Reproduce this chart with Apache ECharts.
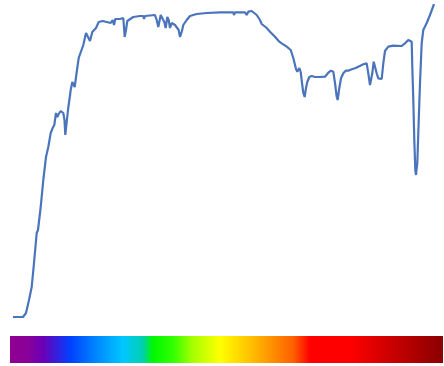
<!DOCTYPE html>
<html>
<head>
<meta charset="utf-8">
<script src="https://cdn.jsdelivr.net/npm/echarts@6/dist/echarts.min.js"></script>
<style>html,body{margin:0;padding:0;background:#fff;}#c{width:444px;height:366px;}</style>
</head>
<body>
<div id="c"></div>
<script>
// Spectrum position (0..433) and relative intensity (0..312)
var position = [
  3, 13, 16, 19, 21.7, 24, 26.7, 28, 30.7, 33.3,
  36, 38.3, 40.7, 42.7, 44.3, 46, 47.3, 48.7, 50.7, 53.3,
  54.5, 55.3, 56.3, 58, 60.7, 62.3, 64.7, 66.7, 68.7, 70.7,
  73.3, 76, 78, 80, 82.3, 84.3, 86, 88.7, 92.7, 96.7,
  98.7, 100.7, 102.7, 104, 105.3, 110, 113.3, 114.7, 116, 117.3,
  123.3, 130, 133.3, 134, 135, 145, 146.7, 148.3, 150.7, 152.7,
  154.3, 155.7, 157.3, 158.7, 160, 161.7, 163.3, 165, 166.7, 168.7,
  170, 171.7, 173.3, 176.7, 180, 183.3, 185, 186.7, 196.7, 210,
  223.3, 224, 225, 235, 236.7, 238.3, 241.7, 246.7, 250, 251.7,
  253.3, 256.7, 260, 265, 269.3, 271.7, 276.7, 280.7, 283.3, 286,
  287.3, 289.3, 290.7, 292, 293.3, 294.7, 296, 297.3, 299.3, 301.7,
  303.3, 305, 306.7, 310, 315, 318.3, 321, 323.3, 325, 326.7,
  327.7, 329, 331, 333.3, 335.7, 338.3, 340, 341.7, 345, 348.3,
  353.3, 356.7, 358.3, 360, 361, 362.3, 363.7, 365, 366.7, 368.3,
  370, 371.7, 373.3, 375, 378.3, 383.3, 391.7, 395, 398.3, 401.7,
  402.3, 403.3, 404.3, 405.3, 406, 407.3, 408.3, 410, 411.7, 413.3,
  416.7, 420, 424
];
var intensity = [
  0, 0, 4, 17, 30, 54, 84, 87, 110, 137,
  160, 170, 184, 189, 192, 204, 200, 203, 206, 204,
  197, 182, 183, 207, 227, 235, 230, 245, 259, 257,
  272, 284, 280, 276, 285, 284, 289, 295, 296, 295,
  297, 294, 297, 292, 298, 298, 299, 280, 287, 296,
  300, 301, 301, 298, 301, 302, 297, 290, 302, 302,
  295, 289, 300, 297, 289, 294, 295, 292, 294, 287,
  280, 285, 292, 297, 301, 302, 300, 303, 304, 304.7,
  304.7, 302, 304.7, 304.7, 302, 305.3, 306, 302, 297, 293,
  293, 289, 285.3, 280.3, 275.3, 273.7, 270.3, 267, 259, 248,
  245.3, 249, 245, 234, 224, 220, 229, 235, 240, 241,
  239, 240, 238, 240, 240.3, 244.3, 246.3, 245.3, 234, 220.3,
  217, 227, 238.7, 243.7, 246.3, 246.3, 244.3, 247.7, 248.7, 250.3,
  252.7, 253.7, 243.7, 232, 230.3, 243.7, 255.3, 253.7, 243.7, 238.7,
  239, 238, 253.7, 266, 270.3, 271.3, 271, 273.7, 277, 275.3,
  250.3, 217, 177, 147, 142, 154, 184, 234, 274, 287,
  294, 302, 313
];
// Spectral colour bar stops (fraction along bar, colour)
var barStops = [0, 0.04, 0.077, 0.139, 0.2, 0.261, 0.307, 0.33, 0.376, 0.423, 0.485, 0.561, 0.654, 0.693, 0.785, 0.9, 1];
var barColors = ['#8e0090', '#8a0098', '#6a00b8', '#0040ff', '#0088ff', '#00c8ff', '#00d0b0', '#00f800', '#30ff00', '#a8ff00', '#ffff00', '#ffbb00', '#ff6000', '#ff0000', '#ff0000', '#c00000', '#8a0000'];

var lineData = position.map(function (p, i) { return [p, intensity[i]]; });
var stops = barStops.map(function (s, i) { return { offset: s, color: barColors[i] }; });

var chart = echarts.init(document.getElementById('c'), null, { renderer: 'canvas' });
chart.setOption({
  animation: false,
  backgroundColor: '#ffffff',
  grid: [
    { left: 10, right: 1, top: 5, height: 312 },
    { left: 10, right: 1, top: 336, height: 27 }
  ],
  xAxis: [
    { type: 'value', gridIndex: 0, min: 0, max: 433, show: false },
    { type: 'value', gridIndex: 1, min: 0, max: 433, show: false }
  ],
  yAxis: [
    { type: 'value', gridIndex: 0, min: 0, max: 312, show: false },
    { type: 'category', gridIndex: 1, data: ['spectrum'], show: false }
  ],
  series: [
    {
      type: 'line', xAxisIndex: 0, yAxisIndex: 0, data: lineData,
      showSymbol: false, symbol: 'none', smooth: false,
      lineStyle: { color: '#4a74bb', width: 2.2 }
    },
    {
      type: 'bar', xAxisIndex: 1, yAxisIndex: 1, data: [433], barWidth: '100%',
      itemStyle: { color: { type: 'linear', x: 0, y: 0, x2: 1, y2: 0, colorStops: stops } },
      silent: true
    }
  ]
});
</script>
</body>
</html>
